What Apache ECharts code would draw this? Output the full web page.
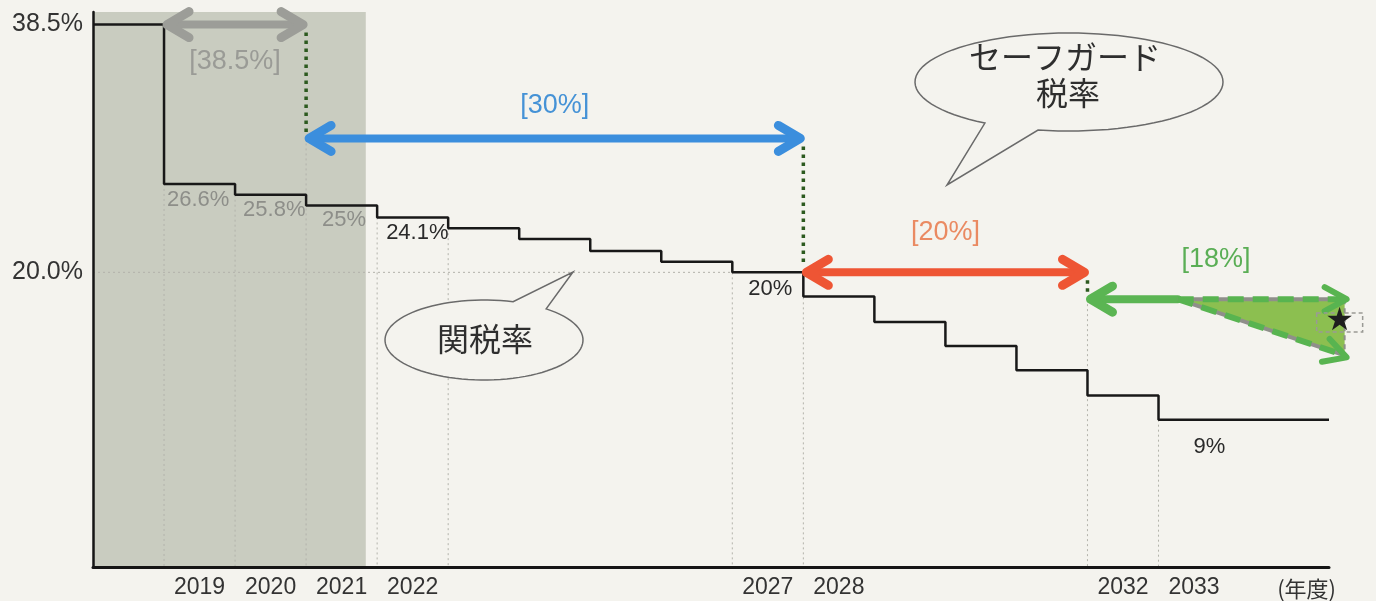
<!DOCTYPE html>
<html>
<head>
<meta charset="utf-8">
<script src="https://cdn.jsdelivr.net/npm/echarts@6.0.0/dist/echarts.min.js"></script>
<style>
html,body{margin:0;padding:0;background:#f4f3ee;}
#chart{width:1376px;height:601px;}
</style>
</head>
<body>
<div id="chart"></div>
<script>
// ---------------- data ----------------
const fiscalYears = [2018, 2019, 2020, 2021, 2022, 2023, 2024, 2025, 2026, 2027, 2028, 2029, 2030, 2031, 2032, 2033];
const tariffRates = [38.5, 26.6, 25.8, 25.0, 24.1, 23.3, 22.5, 21.6, 20.8, 20.0, 18.2, 16.3, 14.5, 12.7, 10.8, 9.0];
const scheduleEndYear = 2035.4;
const xLabelYears = [2019, 2020, 2021, 2022, 2027, 2028, 2032, 2033];
const yLabelValues = [20, 38.5];
const rateLabelYears = [2019, 2020, 2021, 2022, 2027, 2033];
const rateLabelTexts = ['26.6%', '25.8%', '25%', '24.1%', '20%', '9%'];
const guideYears = [2019, 2020, 2021, 2022, 2023, 2027, 2028, 2032, 2033];
const guideTops = [26.6, 25.8, 30, 24.1, 23.3, 20, 20, 18, 9];
const referenceRate = 20;
const referenceUntil = 2027;
const pastPeriod = [2018, 2021.84];
const safeguardStart = [2019, 2021, 2028, 2032];
const safeguardEnd = [2021, 2028, 2032, 2033.27];
const safeguardRates = [38.5, 30, 20, 18];
const safeguardLabels = ['[38.5%]', '[30%]', '[20%]', '[18%]'];
const rangeYears = [2033.27, 2035.62];
const rangeRates = [18, 13.8];
const starPoint = [2035.55, 16.3];
const bubbleTexts = ['関税率', 'セーフガード', '税率'];
const xUnitText = '(年度)';

// ---------------- style ----------------
const BG = '#f4f3ee';
const FONT = "'Liberation Sans', 'Noto Sans CJK JP', sans-serif";
const JFONT = "'Noto Sans CJK JP', sans-serif";
const Y_MIN = -2, Y_MAX = 39.44;
const X_MIN = 2018;
const rateLabelDx = [3, 8, 16, 9, 16, 35];
const rateLabelDy = [16, 15, 15, 15, 17, 27];
const rateLabelColors = ['#8d8e89', '#8d8e89', '#8d8e89', '#2a2a2a', '#2a2a2a', '#2a2a2a'];
const sgColors = ['#9c9d98', '#3b8edd', '#ee5534', '#5bb553'];
const sgTextColors = ['#9a9b96', '#4592d6', '#ea8a62', '#5aae55'];
const sgLabelDy = [37, -33, -40, -40];

const rateOf = y => tariffRates[fiscalYears.indexOf(y)];

function chevron(tip, ux, uy, len, spread) {
  const bx = tip[0] - ux * len, by = tip[1] - uy * len;
  const px = -uy, py = ux;
  return [[bx + px * spread, by + py * spread], [tip[0], tip[1]], [bx - px * spread, by - py * spread]];
}

function bubblePoints(cx, cy, rx, ry, t0, t1, tip) {
  const pts = [];
  const n = 90;
  for (let k = 0; k <= n; k++) {
    const t = (t0 + (t1 - t0) * k / n) * Math.PI / 180;
    pts.push([cx + rx * Math.cos(t), cy + ry * Math.sin(t)]);
  }
  pts.push(tip);
  return pts;
}

const chart = echarts.init(document.getElementById('chart'));

const stepData = fiscalYears.map((y, i) => [y, tariffRates[i]]);
stepData.push([scheduleEndYear, tariffRates[tariffRates.length - 1]]);

const option = {
  backgroundColor: BG,
  animation: false,
  grid: { left: 93, right: 47, top: 12, bottom: 34 },
  xAxis: {
    type: 'value', min: X_MIN, max: scheduleEndYear, z: 10,
    axisLine: { show: true, onZero: false, lineStyle: { color: '#151515', width: 3 } },
    axisTick: { show: false },
    splitLine: { show: false },
    axisLabel: {
      customValues: xLabelYears.map(y => y + 0.5),
      formatter: v => String(Math.round(v - 0.5)),
      color: '#333', fontSize: 23, fontFamily: FONT, margin: 9
    }
  },
  yAxis: {
    type: 'value', min: Y_MIN, max: Y_MAX, z: 10,
    axisLine: { show: true, onZero: false, lineStyle: { color: '#151515', width: 2.5 } },
    axisTick: { show: false },
    splitLine: { show: false },
    axisLabel: {
      customValues: yLabelValues,
      formatter: v => v.toFixed(1) + '%',
      color: '#333', fontSize: 25, fontFamily: FONT, margin: 10
    }
  },
  series: [
    { // past-period shading
      type: 'custom', z: 0, silent: true,
      data: [[pastPeriod[0], Y_MAX]],
      renderItem: (params, api) => {
        const cs = params.coordSys;
        const a = api.coord([pastPeriod[0], Y_MAX]);
        const b = api.coord([pastPeriod[1], Y_MAX]);
        return { type: 'rect', shape: { x: a[0], y: cs.y, width: b[0] - a[0], height: cs.height }, style: { fill: '#c9ccc0' } };
      }
    },
    { // vertical guides
      type: 'custom', z: 1, silent: true,
      data: guideYears.map((y, i) => [y, guideTops[i]]),
      renderItem: (params, api) => {
        const i = params.dataIndex;
        const p = api.coord([guideYears[i], guideTops[i]]);
        const bottom = params.coordSys.y + params.coordSys.height;
        return { type: 'line', shape: { x1: p[0], y1: p[1], x2: p[0], y2: bottom }, style: { stroke: '#b3b3ab', lineWidth: 1, lineDash: [2, 3] } };
      }
    },
    { // 20% reference
      type: 'line', z: 1, silent: true, symbol: 'none',
      data: [[X_MIN, referenceRate], [referenceUntil, referenceRate]],
      lineStyle: { color: '#b3b3ab', width: 1, type: [2, 3] }
    },
    { // tariff step line
      type: 'line', step: 'end', z: 3, symbol: 'none',
      data: stepData,
      lineStyle: { color: '#181818', width: 2.5 }
    },
    { // dark green dotted drops
      type: 'custom', z: 4, silent: true,
      data: safeguardStart.slice(1).map((y, i) => [y, safeguardRates[i + 1]]),
      renderItem: (params, api) => {
        const i = params.dataIndex + 1;
        const a = api.coord([safeguardStart[i], safeguardRates[i - 1]]);
        const b = api.coord([safeguardStart[i], safeguardRates[i]]);
        return { type: 'line', shape: { x1: a[0], y1: a[1] + 8, x2: b[0], y2: b[1] - 6 }, style: { stroke: '#2c5a1f', lineWidth: 3.5, lineDash: [3.5, 4.5] } };
      }
    },
    { // safeguard arrows
      type: 'custom', z: 5, silent: true,
      data: safeguardStart.map((y, i) => [y, safeguardRates[i]]),
      renderItem: (params, api) => {
        const i = params.dataIndex;
        const col = sgColors[i];
        const a = api.coord([safeguardStart[i], safeguardRates[i]]);
        const b = api.coord([safeguardEnd[i], safeguardRates[i]]);
        const hasRight = i < 3;
        const left = [a[0] + 3, a[1]];
        const right = [b[0] - (hasRight ? 3 : 0), b[1]];
        const headStyle = { stroke: col, fill: null, lineWidth: 9, lineCap: 'round', lineJoin: 'round' };
        const children = [
          { type: 'line', shape: { x1: left[0] + 4, y1: left[1], x2: right[0] - (hasRight ? 4 : 0), y2: right[1] }, style: { stroke: col, lineWidth: 8, lineCap: 'round' } },
          { type: 'polyline', shape: { points: chevron(left, -1, 0, 22, 13) }, style: headStyle }
        ];
        if (hasRight) children.push({ type: 'polyline', shape: { points: chevron(right, 1, 0, 22, 13) }, style: headStyle });
        const endYear = hasRight ? safeguardEnd[i] : rangeYears[1];
        const c = api.coord([(safeguardStart[i] + endYear) / 2, safeguardRates[i]]);
        children.push({ type: 'text', style: { x: c[0], y: c[1] + sgLabelDy[i], text: safeguardLabels[i], fill: sgTextColors[i], fontSize: 27, fontFamily: FONT, align: 'center', verticalAlign: 'middle' } });
        return { type: 'group', children };
      }
    },
    { // range triangle with star
      type: 'custom', z: 5, silent: true,
      data: [[rangeYears[0], rangeRates[0]]],
      renderItem: (params, api) => {
        const p0 = api.coord([rangeYears[0], rangeRates[0]]);
        const p1 = api.coord([rangeYears[1], rangeRates[0]]);
        const p2 = api.coord([rangeYears[1], rangeRates[1]]);
        const s = api.coord(starPoint);
        const dx = p2[0] - p0[0], dy = p2[1] - p0[1];
        const L = Math.hypot(dx, dy);
        const green = '#58b450';
        const headStyle = { stroke: green, fill: null, lineWidth: 6, lineCap: 'round', lineJoin: 'round' };
        return {
          type: 'group',
          children: [
            { type: 'polygon', shape: { points: [p0, p1, p2] }, style: { fill: '#8cbf50' } },
            { type: 'line', shape: { x1: p1[0], y1: p1[1], x2: p2[0], y2: p2[1] }, style: { stroke: '#8f8f8a', lineWidth: 2, lineDash: [5, 4] } },
            { type: 'line', shape: { x1: p0[0], y1: p0[1], x2: p1[0], y2: p1[1] }, style: { stroke: '#8f8f8a', lineWidth: 4 } },
            { type: 'line', shape: { x1: p0[0], y1: p0[1], x2: p2[0], y2: p2[1] }, style: { stroke: '#8f8f8a', lineWidth: 4 } },
            { type: 'line', shape: { x1: p0[0], y1: p0[1], x2: p1[0], y2: p1[1] }, style: { stroke: green, lineWidth: 6, lineDash: [16, 9] } },
            { type: 'line', shape: { x1: p0[0], y1: p0[1], x2: p2[0], y2: p2[1] }, style: { stroke: green, lineWidth: 6, lineDash: [16, 9] } },
            { type: 'polyline', shape: { points: chevron([p1[0] + 2, p1[1]], 1, 0, 22, 12) }, style: headStyle },
            { type: 'polyline', shape: { points: chevron([p2[0] + 2, p2[1] + 2], dx / L, dy / L, 22, 12) }, style: headStyle },
            { type: 'rect', shape: { x: s[0] - 23, y: s[1] - 9, width: 46, height: 19 }, style: { fill: null, stroke: '#9a9a95', lineWidth: 1.5, lineDash: [4, 3] } },
            { type: 'text', style: { x: s[0], y: s[1], text: '★', fill: '#1e1e1e', fontSize: 32, fontFamily: "'DejaVu Sans', sans-serif", align: 'center', verticalAlign: 'middle' } }
          ]
        };
      }
    },
    { // rate labels
      type: 'custom', z: 6, silent: true,
      data: rateLabelYears.map(y => [y, rateOf(y)]),
      renderItem: (params, api) => {
        const i = params.dataIndex;
        const p = api.coord([rateLabelYears[i], rateOf(rateLabelYears[i])]);
        return { type: 'text', style: { x: p[0] + rateLabelDx[i], y: p[1] + rateLabelDy[i], text: rateLabelTexts[i], fill: rateLabelColors[i], fontSize: 22, fontFamily: FONT, align: 'left', verticalAlign: 'middle' } };
      }
    }
  ],
  graphic: [
    {
      type: 'polygon', z: 20,
      shape: { points: bubblePoints(484, 340, 99, 40, -51.1, 287.1, [573, 272]) },
      style: { fill: BG, stroke: '#6a6a6a', lineWidth: 1.5 }
    },
    {
      type: 'text', z: 21,
      style: { x: 485, y: 339, text: bubbleTexts[0], fill: '#2e2e2e', fontSize: 32, fontFamily: JFONT, align: 'center', verticalAlign: 'middle' }
    },
    {
      type: 'polygon', z: 20,
      shape: { points: bubblePoints(1069, 82, 154, 49, 123.1, 461.6, [947, 185]) },
      style: { fill: BG, stroke: '#6a6a6a', lineWidth: 1.5 }
    },
    {
      type: 'text', z: 21,
      style: { x: 1065, y: 57, text: bubbleTexts[1], fill: '#2e2e2e', fontSize: 32, fontFamily: JFONT, align: 'center', verticalAlign: 'middle' }
    },
    {
      type: 'text', z: 21,
      style: { x: 1068, y: 93, text: bubbleTexts[2], fill: '#2e2e2e', fontSize: 32, fontFamily: JFONT, align: 'center', verticalAlign: 'middle' }
    },
    {
      type: 'text', z: 21,
      style: { x: 1336, y: 589, text: xUnitText, fill: '#333', fontSize: 22, fontFamily: JFONT, align: 'right', verticalAlign: 'middle' }
    }
  ]
};
chart.setOption(option);
</script>
</body>
</html>
